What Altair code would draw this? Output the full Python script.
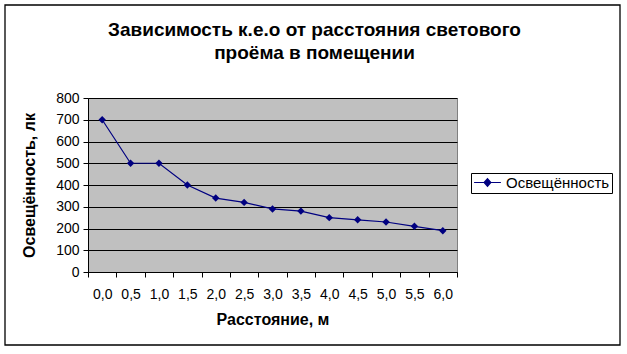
import altair as alt
import pandas as pd

distances = ["0,0", "0,5", "1,0", "1,5", "2,0", "2,5", "3,0", "3,5", "4,0", "4,5", "5,0", "5,5", "6,0"]
illuminance = [700, 500, 500, 400, 340, 320, 290, 280, 250, 240, 230, 210, 190]
series_name = "Освещённость"
y_ticks = [0, 100, 200, 300, 400, 500, 600, 700, 800]

df = pd.DataFrame({"dist": distances, "lux": illuminance, "series": [series_name] * len(distances)})

FONT = "Liberation Sans"
NAVY = "#000080"

line = alt.Chart(df).mark_line(
    strokeWidth=1.2,
    point=alt.OverlayMarkDef(shape="diamond", size=55, filled=True, color=NAVY),
).encode(
    x=alt.X("dist:O", sort=distances,
            scale=alt.Scale(paddingInner=0, paddingOuter=0),
            axis=alt.Axis(title="Расстояние, м", labelAngle=0, tickBand="extent",
                          tickSize=5, labelPadding=10, titlePadding=10,
                          domainColor="black", tickColor="black", grid=False)),
    y=alt.Y("lux:Q", scale=alt.Scale(domain=[0, 800], nice=False),
            axis=alt.Axis(title="Освещённость, лк", values=y_ticks, tickSize=5,
                          labelPadding=4, titlePadding=18, grid=True,
                          gridColor="black", gridWidth=1.2, gridOpacity=1,
                          domainColor="black", tickColor="black")),
    color=alt.Color("series:N", scale=alt.Scale(range=[NAVY]),
                    legend=alt.Legend(title=None, orient="none", legendX=383, legendY=75,
                                      symbolType="M-2,0H2M-0.5,0L0,-0.56L0.5,0L0,0.56Z",
                                      symbolSize=180, symbolStrokeWidth=1.2,
                                      symbolOffset=7,
                                      symbolFillColor=NAVY, symbolStrokeColor=NAVY,
                                      labelFontSize=15, labelFont=FONT, labelColor="black",
                                      labelExpr="datum.label + '  '",
                                      padding=2, strokeColor="black", labelOffset=11)),
)

frame = alt.Chart(pd.DataFrame({"a": [0]})).mark_rect(
    fillOpacity=0, stroke="black", strokeWidth=1.3
).encode(
    x=alt.value(-83), x2=alt.value(532), y=alt.value(-93), y2=alt.value(247)
)

chart = alt.layer(line, frame).properties(
    width=369, height=174,
    padding={"left": 88, "top": 98, "right": 170, "bottom": 82},
    autosize=alt.AutoSizeParams(type="none"),
    background="white",
    title=alt.TitleParams(
        ["Зависимость к.е.о от расстояния светового", "проёма в помещении"],
        anchor="middle", frame="group", dx=42, offset=-59,
        fontSize=19, font=FONT, fontWeight="bold", color="black", lineHeight=23,
    ),
).configure_view(
    fill="#C0C0C0", stroke="#808080", strokeWidth=1
).configure_axis(
    labelFont=FONT, labelFontSize=14, labelColor="black",
    titleFont=FONT, titleFontSize=16, titleFontWeight="bold", titleColor="black",
)

chart.save("out.html", embed_options={"renderer": "svg", "actions": False})
